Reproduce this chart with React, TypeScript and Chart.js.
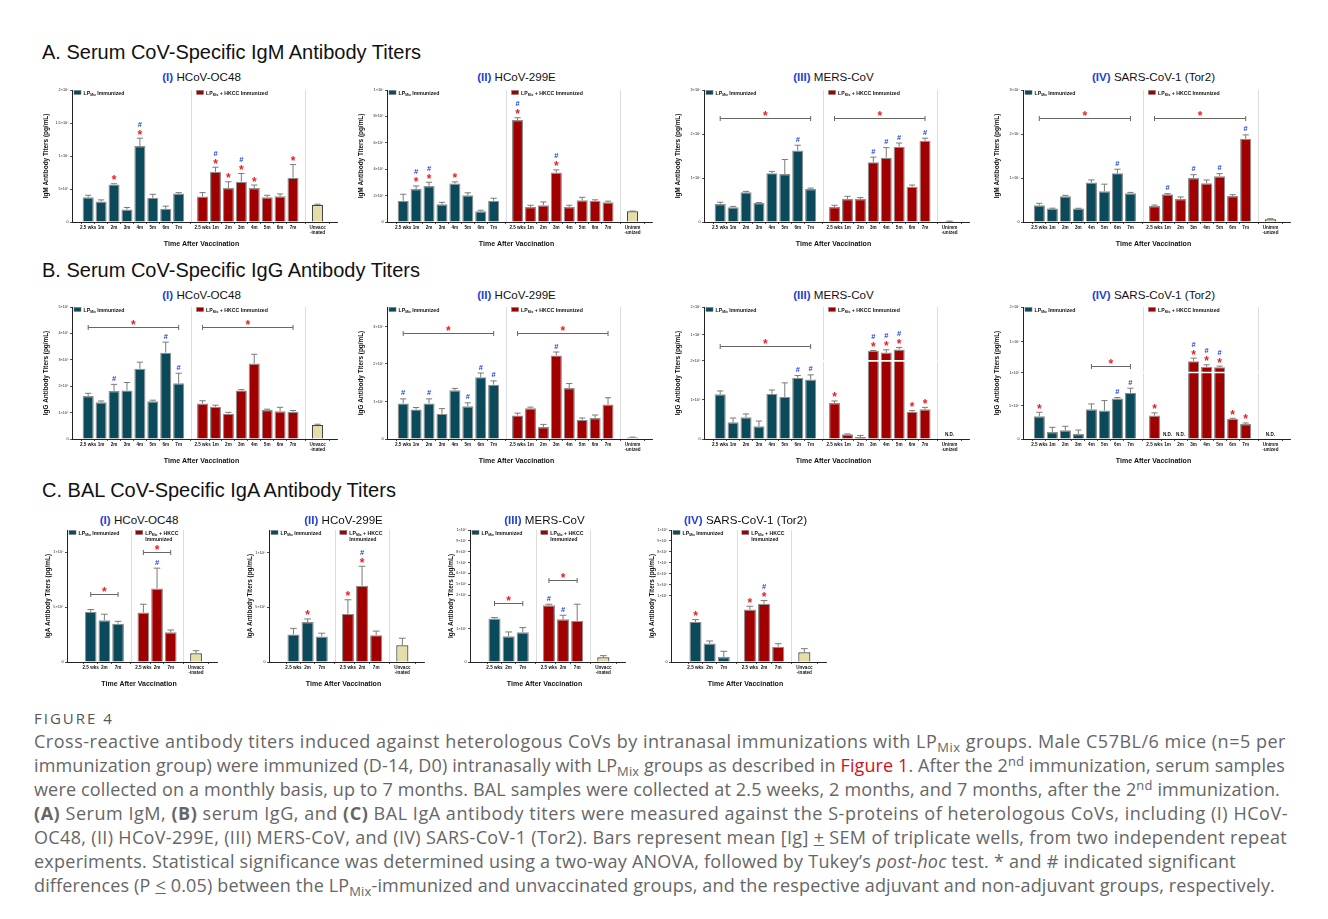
import React, { useEffect, useLayoutEffect, useRef } from 'react';
import { Chart, registerables } from 'chart.js';
Chart.register(...registerables);

const FONT = '"Liberation Sans", Arial, Helvetica, sans-serif';
const TEAL = '#0b4a5b';
const RED = '#a00000';
const BEIGE = '#e6dea9';

// ---------- category / tick labels ----------
const serumTimes = ['2.5 wks', '1m', '2m', '3m', '4m', '5m', '6m', '7m'];
const balTimes = ['2.5 wks', '2m', '7m'];
const unvaccLabel = ['Unvacc', '-inated'];
const unimmLabel = ['Unimm', '-unized'];

// ---------- A. Serum IgM (values ×10^6 pg/mL) ----------
const igmOC48Lp = [3.75, 3.1, 5.7, 1.9, 11.5, 3.65, 2.0, 4.3];
const igmOC48LpErr = [0.3, 0.25, 0.1, 0.3, 1.2, 0.55, 0.4, 0.15];
const igmOC48LpSig = ['', '', '*', '', '*#', '', '', ''];
const igmOC48Hk = [3.85, 7.6, 5.15, 6.1, 5.15, 3.75, 3.9, 6.7];
const igmOC48HkErr = [0.6, 0.7, 0.95, 1.25, 0.45, 0.3, 0.35, 2.0];
const igmOC48HkSig = ['', '*#', '*', '*#', '*', '', '', '*'];

const igm229Lp = [1.6, 2.5, 2.73, 1.34, 2.91, 2.03, 0.81, 1.6];
const igm229LpErr = [0.5, 0.23, 0.28, 0.15, 0.13, 0.18, 0.08, 0.2];
const igm229LpSig = ['', '*#', '*#', '', '*', '', '', ''];
const igm229Hk = [7.72, 1.14, 1.27, 3.75, 1.14, 1.65, 1.6, 1.5];
const igm229HkErr = [0.18, 0.13, 0.25, 0.2, 0.13, 0.22, 0.08, 0.08];
const igm229HkSig = ['*#', '', '', '*#', '', '', '', ''];

const igmMersLp = [4.1, 3.35, 6.76, 4.33, 11.1, 10.9, 16.25, 7.5];
const igmMersLpErr = [0.4, 0.2, 0.2, 0.08, 0.4, 3.3, 1.2, 0.2];
const igmMersLpSig = ['', '', '', '', '', '', '#', ''];
const igmMersHk = [3.4, 5.24, 5.24, 13.6, 14.6, 17.1, 8.0, 18.45];
const igmMersHkErr = [0.4, 0.6, 0.3, 1.14, 2.3, 0.85, 0.4, 0.6];
const igmMersHkSig = ['', '', '', '#', '#', '#', '', '#'];

const igmSarsLp = [3.8, 3.04, 5.85, 3.04, 8.96, 7.0, 11.1, 6.53];
const igmSarsLpErr = [0.45, 0.1, 0.2, 0.08, 0.6, 1.6, 0.9, 0.2];
const igmSarsLpSig = ['', '', '', '', '', '', '#', ''];
const igmSarsHk = [3.65, 6.3, 5.24, 10.0, 8.8, 10.4, 5.9, 18.9];
const igmSarsHkErr = [0.2, 0.15, 0.45, 0.75, 0.75, 0.6, 0.3, 0.9];
const igmSarsHkSig = ['', '#', '', '#', '', '#', '', '#'];

// ---------- B. Serum IgG ----------
const iggOC48Lp = [1.63, 1.39, 1.82, 1.84, 2.66, 1.43, 3.27, 2.11]; // ×10^6
const iggOC48LpErr = [0.1, 0.05, 0.25, 0.3, 0.25, 0.04, 0.4, 0.38];
const iggOC48LpSig = ['', '', '#', '', '', '', '#', '#'];
const iggOC48Hk = [1.34, 1.22, 0.96, 1.84, 2.86, 1.1, 1.05, 1.03];
const iggOC48HkErr = [0.11, 0.06, 0.05, 0.03, 0.35, 0.03, 0.15, 0.05];
const iggOC48HkSig = ['', '', '', '', '', '', '', ''];

const igg229Lp = [0.95, 0.79, 0.95, 0.67, 1.3, 0.875, 1.65, 1.45]; // ×10^5
const igg229LpErr = [0.12, 0.05, 0.12, 0.14, 0.05, 0.09, 0.11, 0.1];
const igg229LpSig = ['#', '', '#', '', '', '#', '#', '#'];
const igg229Hk = [0.63, 0.82, 0.32, 2.23, 1.36, 0.51, 0.56, 0.92];
const igg229HkErr = [0.06, 0.03, 0.07, 0.09, 0.12, 0.05, 0.08, 0.18];
const igg229HkSig = ['', '', '', '#', '', '', '', ''];

const iggMersLp = [1.145, 0.427, 0.556, 0.325, 1.154, 1.077, 1.564, 1.521]; // ×10^6
const iggMersLpErr = [0.085, 0.11, 0.085, 0.135, 0.1, 0.36, 0.06, 0.12];
const iggMersLpSig = ['', '', '', '', '', '', '#', '#'];
const iggMersHk = [0.923, 0.12, 0.05, 5.08, 4.56, 5.49, 0.7, 0.76];
const iggMersHkErr = [0.05, 0.01, 0.04, 0.1, 0.82, 0.62, 0.026, 0.05];
const iggMersHkSig = ['*', '', '', '*#', '*#', '*#', '*', '*'];

const iggSarsLp = [3.42, 1.06, 1.31, 0.75, 4.47, 4.27, 6.08, 6.93]; // ×10^5
const iggSarsLpErr = [0.6, 0.7, 0.6, 0.6, 0.8, 1.5, 0.15, 0.7];
const iggSarsLpSig = ['*', '', '', '', '', '', '#', '#'];
const iggSarsHk = [3.52, null, null, 42.9, 26.5, 25.5, 3.02, 2.26];
const iggSarsHkErr = [0.4, 0, 0, 8.7, 5.8, 2.9, 0.1, 0.15];
const iggSarsHkSig = ['*', '', '', '*#', '*#', '*#', '*', '*'];

// ---------- C. BAL IgA ----------
const igaOC48Lp = [4.57, 3.81, 3.5]; // ×10^4
const igaOC48LpErr = [0.21, 0.55, 0.21];
const igaOC48LpSig = ['', '', ''];
const igaOC48Hk = [4.51, 6.7, 2.71];
const igaOC48HkErr = [0.76, 1.86, 0.21];
const igaOC48HkSig = ['', '#', ''];

const iga229Lp = [2.52, 3.65, 2.33]; // ×10^4
const iga229LpErr = [0.55, 0.28, 0.3];
const iga229LpSig = ['', '*', ''];
const iga229Hk = [4.39, 6.96, 2.45];
const iga229HkErr = [1.29, 1.78, 0.37];
const iga229HkSig = ['*', '*#', ''];

const igaMersLp = [1.3, 0.77, 0.89]; // ×10^5
const igaMersLpErr = [0.03, 0.13, 0.14];
const igaMersLpSig = ['', '', ''];
const igaMersHk = [1.7, 1.28, 1.23];
const igaMersHkErr = [0.03, 0.12, 0.5];
const igaMersHkSig = ['#', '#', ''];

const igaSarsLp = [6.06, 2.78, 0.76]; // ×10^4
const igaSarsLpErr = [0.35, 0.4, 0.86];
const igaSarsLpSig = ['*', '', ''];
const igaSarsHk = [7.93, 8.79, 2.32];
const igaSarsHkErr = [0.5, 0.5, 0.45];
const igaSarsHkSig = ['*', '*#', ''];

// ---------- tick labels ----------
const ticksAI = ['0', '5×10⁶', '1×10⁷', '1.5×10⁷', '2×10⁷'];
const ticksAII = ['0', '2×10⁶', '4×10⁶', '6×10⁶', '8×10⁶', '1×10⁷'];
const ticksA3 = ['0', '1×10⁷', '2×10⁷', '3×10⁷'];
const ticksBI = ['0', '1×10⁶', '2×10⁶', '3×10⁶', '4×10⁶', '5×10⁶'];
const ticksBII = ['0', '1×10⁵', '2×10⁵', '3×10⁵'];
const ticksBIII = ['0', '1×10⁶', '2×10⁶', '1×10⁷', '2×10⁷'];
const ticksBIV = ['0', '5×10⁵', '1×10⁶', '1×10⁷', '2×10⁷'];
const ticksC = ['0', '5×10⁴', '1×10⁵'];
const ticksCIII = ['0', '1×10⁵', '2×10⁵', '5×10⁵', '6×10⁵', '7×10⁵', '8×10⁵', '9×10⁵', '1×10⁶'];
const ticksCIV = ['0', '1×10⁵', '5×10⁵', '6×10⁵', '7×10⁵', '8×10⁵', '9×10⁵', '1×10⁶'];

const SERUM = { times: serumTimes, xMin: -0.65, xMax: 18.65, g2: 8.85, ctrlX: 17.75, yTitleOff: 26, twoLine: false };
const BAL = { times: balTimes, xMin: -0.95, xMax: 8.45, g2: 3.85, ctrlX: 7.7, yTitleOff: 19, twoLine: true };

interface Bracket { g: number; from: number; to: number; y: number }
interface Panel {
  roman: string; virus: string; yTitle: string;
  area: number[];
  row: 'serum' | 'bal';
  ctrlLabel: string[];
  lp: (number | null)[]; lpErr: number[]; lpSig: string[];
  hk: (number | null)[]; hkErr: number[]; hkSig: string[];
  ctrl: number | null; ctrlErr: number;
  mapVals: number[]; mapFracs: number[];
  tickVals: number[]; tickLabels: string[];
  brackets: Bracket[];
  breakVal?: number;
}

const IGM = 'IgM Antibody Titers (pg/mL)';
const IGG = 'IgG Antibody Titers (pg/mL)';
const IGA = 'IgA Antibody Titers (pg/mL)';

const panels: Panel[] = [
  { roman: 'I', virus: 'HCoV-OC48', yTitle: IGM, area: [72, 90, 265, 132], row: 'serum', ctrlLabel: unvaccLabel,
    lp: igmOC48Lp, lpErr: igmOC48LpErr, lpSig: igmOC48LpSig, hk: igmOC48Hk, hkErr: igmOC48HkErr, hkSig: igmOC48HkSig,
    ctrl: 2.6, ctrlErr: 0.1, mapVals: [0, 20], mapFracs: [0, 1], tickVals: [0, 5, 10, 15, 20], tickLabels: ticksAI, brackets: [] },
  { roman: 'II', virus: 'HCoV-299E', yTitle: IGM, area: [387, 90, 265, 132], row: 'serum', ctrlLabel: unimmLabel,
    lp: igm229Lp, lpErr: igm229LpErr, lpSig: igm229LpSig, hk: igm229Hk, hkErr: igm229HkErr, hkSig: igm229HkSig,
    ctrl: 0.81, ctrlErr: 0.02, mapVals: [0, 10], mapFracs: [0, 1], tickVals: [0, 2, 4, 6, 8, 10], tickLabels: ticksAII, brackets: [] },
  { roman: 'III', virus: 'MERS-CoV', yTitle: IGM, area: [704, 90, 265, 132], row: 'serum', ctrlLabel: unimmLabel,
    lp: igmMersLp, lpErr: igmMersLpErr, lpSig: igmMersLpSig, hk: igmMersHk, hkErr: igmMersHkErr, hkSig: igmMersHkSig,
    ctrl: 0.15, ctrlErr: 0.05, mapVals: [0, 30], mapFracs: [0, 1], tickVals: [0, 10, 20, 30], tickLabels: ticksA3,
    brackets: [{ g: 0, from: 0, to: 7, y: 23.6 }, { g: 1, from: 0, to: 7, y: 23.6 }] },
  { roman: 'IV', virus: 'SARS-CoV-1 (Tor2)', yTitle: IGM, area: [1023, 90, 267, 132], row: 'serum', ctrlLabel: unimmLabel,
    lp: igmSarsLp, lpErr: igmSarsLpErr, lpSig: igmSarsLpSig, hk: igmSarsHk, hkErr: igmSarsHkErr, hkSig: igmSarsHkSig,
    ctrl: 0.6, ctrlErr: 0.15, mapVals: [0, 30], mapFracs: [0, 1], tickVals: [0, 10, 20, 30], tickLabels: ticksA3,
    brackets: [{ g: 0, from: 0, to: 7, y: 23.6 }, { g: 1, from: 0, to: 7, y: 23.6 }] },

  { roman: 'I', virus: 'HCoV-OC48', yTitle: IGG, area: [72, 307, 265, 132], row: 'serum', ctrlLabel: unvaccLabel,
    lp: iggOC48Lp, lpErr: iggOC48LpErr, lpSig: iggOC48LpSig, hk: iggOC48Hk, hkErr: iggOC48HkErr, hkSig: iggOC48HkSig,
    ctrl: 0.53, ctrlErr: 0.03, mapVals: [0, 5], mapFracs: [0, 1], tickVals: [0, 1, 2, 3, 4, 5], tickLabels: ticksBI,
    brackets: [{ g: 0, from: 0, to: 7, y: 4.24 }, { g: 1, from: 0, to: 7, y: 4.24 }] },
  { roman: 'II', virus: 'HCoV-299E', yTitle: IGG, area: [387, 307, 265, 132], row: 'serum', ctrlLabel: unimmLabel,
    lp: igg229Lp, lpErr: igg229LpErr, lpSig: igg229LpSig, hk: igg229Hk, hkErr: igg229HkErr, hkSig: igg229HkSig,
    ctrl: 0.04, ctrlErr: 0.01, mapVals: [0, 3.52], mapFracs: [0, 1], tickVals: [0, 1, 2, 3], tickLabels: ticksBII,
    brackets: [{ g: 0, from: 0, to: 7, y: 2.84 }, { g: 1, from: 0, to: 7, y: 2.84 }] },
  { roman: 'III', virus: 'MERS-CoV', yTitle: IGG, area: [704, 307, 265, 132], row: 'serum', ctrlLabel: unimmLabel,
    lp: iggMersLp, lpErr: iggMersLpErr, lpSig: iggMersLpSig, hk: iggMersHk, hkErr: iggMersHkErr, hkSig: iggMersHkSig,
    ctrl: null, ctrlErr: 0, mapVals: [0, 1, 2, 10, 20], mapFracs: [0, 0.296, 0.592, 0.79, 1], tickVals: [0, 1, 2, 10, 20], tickLabels: ticksBIII,
    brackets: [{ g: 0, from: 0, to: 7, y: 6.41 }], breakVal: 2 },
  { roman: 'IV', virus: 'SARS-CoV-1 (Tor2)', yTitle: IGG, area: [1023, 307, 267, 132], row: 'serum', ctrlLabel: unimmLabel,
    lp: iggSarsLp, lpErr: iggSarsLpErr, lpSig: iggSarsLpSig, hk: iggSarsHk, hkErr: iggSarsHkErr, hkSig: iggSarsHkSig,
    ctrl: null, ctrlErr: 0, mapVals: [0, 5, 10, 100, 200], mapFracs: [0, 0.252, 0.504, 0.739, 1], tickVals: [0, 5, 10, 100, 200], tickLabels: ticksBIV,
    brackets: [{ g: 0, from: 4, to: 7, y: 27.4 }], breakVal: 10 },

  { roman: 'I', virus: 'HCoV-OC48', yTitle: IGA, area: [67, 530, 150, 132], row: 'bal', ctrlLabel: unvaccLabel,
    lp: igaOC48Lp, lpErr: igaOC48LpErr, lpSig: igaOC48LpSig, hk: igaOC48Hk, hkErr: igaOC48HkErr, hkSig: igaOC48HkSig,
    ctrl: 0.79, ctrlErr: 0.24, mapVals: [0, 12.04], mapFracs: [0, 1], tickVals: [0, 5, 10], tickLabels: ticksC,
    brackets: [{ g: 0, from: 0, to: 2, y: 6.19 }, { g: 1, from: 0, to: 2, y: 10.0 }] },
  { roman: 'II', virus: 'HCoV-299E', yTitle: IGA, area: [269, 530, 155, 132], row: 'bal', ctrlLabel: unvaccLabel,
    lp: iga229Lp, lpErr: iga229LpErr, lpSig: iga229LpSig, hk: iga229Hk, hkErr: iga229HkErr, hkSig: iga229HkSig,
    ctrl: 1.53, ctrlErr: 0.64, mapVals: [0, 12.05], mapFracs: [0, 1], tickVals: [0, 5, 10], tickLabels: ticksC, brackets: [] },
  { roman: 'III', virus: 'MERS-CoV', yTitle: IGA, area: [470, 530, 155, 132], row: 'bal', ctrlLabel: unvaccLabel,
    lp: igaMersLp, lpErr: igaMersLpErr, lpSig: igaMersLpSig, hk: igaMersHk, hkErr: igaMersHkErr, hkSig: igaMersHkSig,
    ctrl: 0.14, ctrlErr: 0.05, mapVals: [0, 2, 5, 10], mapFracs: [0, 0.506, 0.59, 1], tickVals: [0, 1, 2, 5, 6, 7, 8, 9, 10], tickLabels: ticksCIII,
    brackets: [{ g: 0, from: 0, to: 2, y: 1.76 }, { g: 1, from: 0, to: 2, y: 5.4 }] },
  { roman: 'IV', virus: 'SARS-CoV-1 (Tor2)', yTitle: IGA, area: [671, 530, 155, 132], row: 'bal', ctrlLabel: unvaccLabel,
    lp: igaSarsLp, lpErr: igaSarsLpErr, lpSig: igaSarsLpSig, hk: igaSarsHk, hkErr: igaSarsHkErr, hkSig: igaSarsHkSig,
    ctrl: 1.46, ctrlErr: 0.56, mapVals: [0, 10, 50, 100], mapFracs: [0, 0.501, 0.585, 1], tickVals: [0, 10, 50, 60, 70, 80, 90, 100], tickLabels: ticksCIV,
    brackets: [] },
];

const PADL = 40, PADT = 4, PADR = 8, PADB = 34;

function makeFrac(vals: number[], fracs: number[]) {
  return (v: number) => {
    for (let i = 1; i < vals.length; i++) {
      if (v <= vals[i] || i === vals.length - 1) {
        const t = (v - vals[i - 1]) / (vals[i] - vals[i - 1]);
        return fracs[i - 1] + t * (fracs[i] - fracs[i - 1]);
      }
    }
    return 0;
  };
}

function glyph(ctx: CanvasRenderingContext2D, ch: string, x: number, cy: number, font: string, color: string) {
  ctx.font = font;
  ctx.fillStyle = color;
  ctx.textAlign = 'center';
  ctx.textBaseline = 'alphabetic';
  const m = ctx.measureText(ch);
  ctx.fillText(ch, x, cy + (m.actualBoundingBoxAscent - m.actualBoundingBoxDescent) / 2);
}

const STAR_FONT = `bold 12px ${FONT}`;
const HASH_FONT = `bold 7.5px ${FONT}`;
const STAR_COL = '#ec1c24';
const HASH_COL = '#1b3de0';

function drawLegend(ctx: CanvasRenderingContext2D, x: number, y: number, color: string, rest: string, second?: string) {
  ctx.fillStyle = color;
  ctx.fillRect(x, y, 7, 4);
  ctx.strokeStyle = '#777';
  ctx.lineWidth = 0.5;
  ctx.strokeRect(x, y, 7, 4);
  ctx.fillStyle = '#111';
  ctx.textAlign = 'left';
  ctx.textBaseline = 'alphabetic';
  let tx = x + 9.5;
  const base = y + 4;
  ctx.font = `bold 5.2px ${FONT}`;
  ctx.fillText('LP', tx, base);
  tx += ctx.measureText('LP').width;
  ctx.font = `bold 3.4px ${FONT}`;
  ctx.fillText('Mix', tx, base + 1.2);
  tx += ctx.measureText('Mix').width;
  ctx.font = `bold 5.2px ${FONT}`;
  ctx.fillText(rest, tx, base);
  if (second) ctx.fillText(second, x + 9.5, base + 6.5);
}

function PanelChart({ p }: { p: Panel }) {
  const ref = useRef<HTMLCanvasElement>(null);
  const L = p.row === 'serum' ? SERUM : BAL;
  const [left, top, w, h] = p.area;
  const cw = w + PADL + PADR;
  const chh = h + PADT + PADB;

  useEffect(() => {
    const toFrac = makeFrac(p.mapVals, p.mapFracs);
    const n = L.times.length;
    const bars: any[] = [];
    L.times.forEach((_t, i) => bars.push({ x: i, v: p.lp[i], err: p.lpErr[i], sig: p.lpSig[i], color: TEAL }));
    L.times.forEach((_t, i) => bars.push({ x: L.g2 + i, v: p.hk[i], err: p.hkErr[i], sig: p.hkSig[i], color: RED }));
    bars.push({ x: L.ctrlX, v: p.ctrl, err: p.ctrlErr, sig: '', color: BEIGE });
    const labels: any[] = [...L.times, ...L.times, p.ctrlLabel];

    const annot = {
      id: 'annot',
      beforeDatasetsDraw(chart: any) {
        const ctx = chart.ctx, xs = chart.scales.x, ca = chart.chartArea;
        const seps = [(n - 1 + L.g2) / 2, (L.g2 + n - 1 + L.ctrlX) / 2];
        ctx.save();
        ctx.strokeStyle = '#dcdcdc';
        ctx.lineWidth = 1;
        seps.forEach((s) => {
          const x = Math.round(xs.getPixelForValue(s)) + 0.5;
          ctx.beginPath(); ctx.moveTo(x, ca.top); ctx.lineTo(x, ca.bottom); ctx.stroke();
        });
        ctx.restore();
      },
      afterDatasetsDraw(chart: any) {
        const ctx: CanvasRenderingContext2D = chart.ctx;
        const xs = chart.scales.x, ys = chart.scales.y, ca = chart.chartArea;
        const meta = chart.getDatasetMeta(0);
        ctx.save();
        if (p.breakVal != null) {
          const y = ys.getPixelForValue(toFrac(p.breakVal));
          ctx.strokeStyle = '#fff'; ctx.lineWidth = 1.6;
          ctx.beginPath(); ctx.moveTo(ca.left + 1, y); ctx.lineTo(ca.right, y); ctx.stroke();
        }
        bars.forEach((b, i) => {
          const x = xs.getPixelForValue(b.x);
          if (b.v == null) {
            ctx.font = `bold 4.6px ${FONT}`; ctx.fillStyle = '#111'; ctx.textAlign = 'center'; ctx.textBaseline = 'alphabetic';
            ctx.fillText('N.D.', x, ca.bottom - 3);
            return;
          }
          const yTop = ys.getPixelForValue(toFrac(b.v));
          let anchor = yTop;
          if (b.err > 0) {
            const yE = ys.getPixelForValue(toFrac(b.v + b.err));
            const bw = meta.data[i] ? meta.data[i].width : 10;
            const cap = bw * 0.28;
            ctx.strokeStyle = '#7a7a7a'; ctx.lineWidth = 1;
            ctx.beginPath();
            ctx.moveTo(x, yTop); ctx.lineTo(x, yE);
            ctx.moveTo(x - cap, yE); ctx.lineTo(x + cap, yE);
            ctx.stroke();
            anchor = yE;
          }
          let cy = anchor - 6;
          if (b.sig.includes('*')) {
            glyph(ctx, '*', x, cy, STAR_FONT, STAR_COL);
            cy -= 8;
          }
          if (b.sig.includes('#')) glyph(ctx, '#', x, cy, HASH_FONT, HASH_COL);
        });
        p.brackets.forEach((br) => {
          const off = br.g === 0 ? 0 : L.g2;
          const x1 = xs.getPixelForValue(off + br.from);
          const x2 = xs.getPixelForValue(off + br.to);
          const y = Math.round(ys.getPixelForValue(toFrac(br.y))) + 0.5;
          ctx.strokeStyle = '#666'; ctx.lineWidth = 1;
          ctx.beginPath();
          ctx.moveTo(x1, y); ctx.lineTo(x2, y);
          ctx.moveTo(x1, y - 2.5); ctx.lineTo(x1, y + 2.5);
          ctx.moveTo(x2, y - 2.5); ctx.lineTo(x2, y + 2.5);
          ctx.stroke();
          glyph(ctx, '*', (x1 + x2) / 2, y - 5.5, STAR_FONT, STAR_COL);
        });
        // legends
        const sep1 = xs.getPixelForValue((n - 1 + L.g2) / 2);
        drawLegend(ctx, ca.left + 2, ca.top + 0.5, TEAL, ' Immunized');
        if (L.twoLine) drawLegend(ctx, sep1 + 5, ca.top + 0.5, RED, ' + HKCC', 'Immunized');
        else drawLegend(ctx, sep1 + 6, ca.top + 0.5, RED, ' + HKCC Immunized');
        // axis titles
        ctx.fillStyle = '#111';
        ctx.textAlign = 'center';
        ctx.textBaseline = 'middle';
        ctx.font = `bold 7px ${FONT}`;
        ctx.fillText('Time After Vaccination', (ca.left + ca.right) / 2 - 3, ca.bottom + 22);
        ctx.translate(ca.left - L.yTitleOff, (ca.top + ca.bottom) / 2);
        ctx.rotate(-Math.PI / 2);
        ctx.font = `bold 6.4px ${FONT}`;
        ctx.fillText(p.yTitle, 0, 0);
        ctx.restore();
      },
    };

    const chart = new Chart(ref.current as HTMLCanvasElement, {
      type: 'bar',
      data: {
        datasets: [{
          data: bars.map((b) => ({ x: b.x, y: b.v == null ? null : toFrac(b.v) })) as any,
          backgroundColor: bars.map((b) => b.color),
          borderColor: bars.map((b) => (b.color === BEIGE ? '#444' : '#8f8f8f')),
          borderWidth: 1.2,
          categoryPercentage: 1,
          barPercentage: 0.86,
        }],
      },
      options: {
        responsive: false,
        maintainAspectRatio: false,
        animation: false,
        layout: { padding: { left: 0, top: PADT, right: PADR, bottom: 0 } },
        plugins: { legend: { display: false }, tooltip: { enabled: false }, title: { display: false } },
        scales: {
          x: {
            type: 'linear', min: L.xMin, max: L.xMax,
            afterBuildTicks: (s: any) => { s.ticks = bars.map((b) => ({ value: b.x })); },
            afterFit: (s: any) => { s.height = PADB; },
            ticks: {
              autoSkip: false, maxRotation: 0, minRotation: 0, padding: 1, color: '#111',
              font: { size: 4.6, weight: 'bold', family: FONT, lineHeight: 1.15 },
              callback: (_v: any, i: number) => labels[i],
            },
            grid: { drawOnChartArea: false, drawTicks: true, tickLength: 2, color: '#222', lineWidth: 0.8 },
            border: { display: true, color: '#222', width: 1 },
          },
          y: {
            type: 'linear', min: 0, max: 1,
            afterBuildTicks: (s: any) => { s.ticks = p.tickVals.map((v) => ({ value: toFrac(v) })); },
            afterFit: (s: any) => { s.width = PADL; },
            ticks: { padding: 1.5, color: '#222', font: { size: 3.8, family: FONT }, callback: (_v: any, i: number) => p.tickLabels[i] },
            grid: { drawOnChartArea: false, drawTicks: true, tickLength: 2, color: '#222', lineWidth: 0.8 },
            border: { display: true, color: '#222', width: 1 },
          },
        },
      } as any,
      plugins: [annot as any],
    });
    return () => chart.destroy();
  }, []);

  const titleY = p.row === 'serum' ? (top < 200 ? 77 : 295) : 520;
  const cx = left + w / 2 - 3;
  return (
    <>
      <div style={{ position: 'absolute', left: cx - 150, width: 300, top: titleY - 7, height: 14, lineHeight: '14px',
        textAlign: 'center', fontFamily: FONT, fontSize: 11.6, color: '#111', whiteSpace: 'nowrap' }}>
        <span style={{ color: '#2341d6', fontWeight: 700 }}>({p.roman})</span> {p.virus}
      </div>
      <canvas ref={ref} width={cw} height={chh}
        style={{ position: 'absolute', left: left - PADL, top: top - PADT, width: cw, height: chh }} />
    </>
  );
}

const headStyle: React.CSSProperties = { position: 'absolute', left: 42, fontFamily: FONT, fontSize: 20, lineHeight: '22px', color: '#111', whiteSpace: 'nowrap' };
const capFont = '"Open Sans", "Noto Sans", sans-serif';
const CAP_LEFT = 34;
// right end (page x) of each caption line in the reference, and its vertical centre
const capRight = [1286, 1285, 1280, 1288, 1287, 1236, 1275];
const capY = [741, 765, 789, 813, 837, 861, 885];
const capLine = (y: number): React.CSSProperties => ({ position: 'absolute', left: CAP_LEFT, top: y - 12, height: 24, lineHeight: '24px', fontFamily: capFont, fontSize: 18, color: '#666', whiteSpace: 'nowrap' });
const sub = { fontSize: '0.72em', verticalAlign: '-0.3em', lineHeight: 0 } as React.CSSProperties;
const sup = { fontSize: '0.72em', verticalAlign: '0.45em', lineHeight: 0 } as React.CSSProperties;

function Caption() {
  const refs = useRef<(HTMLDivElement | null)[]>([]);
  useLayoutEffect(() => {
    refs.current.forEach((el, i) => {
      if (!el) return;
      el.style.letterSpacing = '0px';
      const wNat = el.getBoundingClientRect().width;
      const chars = (el.textContent || '').length;
      const target = capRight[i] - CAP_LEFT;
      el.style.letterSpacing = ((target - wNat) / chars).toFixed(3) + 'px';
    });
  }, []);
  const lines = [
    <>Cross-reactive antibody titers induced against heterologous CoVs by intranasal immunizations with LP<span style={sub}>Mix</span> groups. Male C57BL/6 mice (n=5 per</>,
    <>immunization group) were immunized (D-14, D0) intranasally with LP<span style={sub}>Mix</span> groups as described in <span style={{ color: '#d0101c' }}>Figure 1</span>. After the 2<span style={sup}>nd</span> immunization, serum samples</>,
    <>were collected on a monthly basis, up to 7 months. BAL samples were collected at 2.5 weeks, 2 months, and 7 months, after the 2<span style={sup}>nd</span> immunization.</>,
    <><b>(A)</b> Serum IgM, <b>(B)</b> serum IgG, and <b>(C)</b> BAL IgA antibody titers were measured against the S-proteins of heterologous CoVs, including (I) HCoV-</>,
    <>OC48, (II) HCoV-299E, (III) MERS-CoV, and (IV) SARS-CoV-1 (Tor2). Bars represent mean [Ig] <u>+</u> SEM of triplicate wells, from two independent repeat</>,
    <>experiments. Statistical significance was determined using a two-way ANOVA, followed by Tukey’s <i>post-hoc</i> test. * and # indicated significant</>,
    <>differences (P <u>&lt;</u> 0.05) between the LP<span style={sub}>Mix</span>-immunized and unvaccinated groups, and the respective adjuvant and non-adjuvant groups, respectively.</>,
  ];
  return (
    <>
      {lines.map((ln, i) => (
        <div key={i} ref={(el) => { refs.current[i] = el; }} style={capLine(capY[i])}>{ln}</div>
      ))}
    </>
  );
}

export default function App() {
  return (
    <div style={{ position: 'absolute', left: 0, top: 0, width: 1328, height: 919, background: '#fff', overflow: 'hidden' }}>
      <div style={{ ...headStyle, top: 41 }}>A. Serum CoV-Specific IgM Antibody Titers</div>
      <div style={{ ...headStyle, top: 259 }}>B. Serum CoV-Specific IgG Antibody Titers</div>
      <div style={{ ...headStyle, top: 479 }}>C. BAL CoV-Specific IgA Antibody Titers</div>
      {panels.map((p, i) => <PanelChart key={i} p={p} />)}
      <div style={{ position: 'absolute', left: 34, top: 709, fontFamily: capFont, fontSize: 15, letterSpacing: 2, color: '#555', lineHeight: '18px' }}>FIGURE 4</div>
      <Caption />
    </div>
  );
}
